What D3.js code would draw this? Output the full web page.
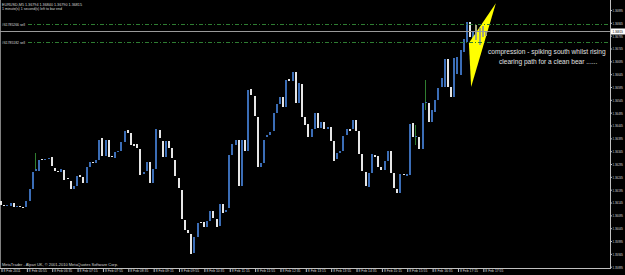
<!DOCTYPE html>
<html><head><meta charset="utf-8">
<script src="https://cdn.jsdelivr.net/npm/d3@7"></script>
<style>html,body{margin:0;padding:0;background:#000;overflow:hidden}svg{display:block}</style>
</head><body>
<svg id="c" width="625" height="275"></svg>
<script>
const titleLine = "EURUSD,M5  1.36794 1.36840 1.36790 1.36815";
const timerLine = "1 minute(s) 1 second(s) left to bar end";
const copyrightLine = "MetaTrader - Alpari UK, \u00a9 2001-2010 MetaQuotes Software Corp.";
const timeLabels = ["8 Feb 2011","8 Feb 05:55","8 Feb 06:35","8 Feb 07:15","8 Feb 07:55","8 Feb 08:35","8 Feb 09:15","8 Feb 09:55","8 Feb 10:35","8 Feb 11:15","8 Feb 11:55","8 Feb 12:35","8 Feb 13:15","8 Feb 13:55","8 Feb 14:35","8 Feb 15:15","8 Feb 15:55","8 Feb 16:35","8 Feb 17:15","8 Feb 17:55"];
const priceTicks = [1.35895,1.35945,1.35995,1.36045,1.36095,1.36145,1.36195,1.36245,1.36295,1.36345,1.36395,1.36445,1.36495,1.36545,1.36595,1.36645,1.36695,1.36745,1.36795,1.36845,1.36895];
const opens = [1.36151,1.36135,1.36133,1.36131,1.36143,1.36128,1.36130,1.36128,1.36128,1.36151,
1.36198,1.36268,1.36268,1.36315,1.36313,1.36316,1.36322,1.36280,1.36268,1.36264,
1.36272,1.36239,1.36229,1.36198,1.36209,1.36252,1.36244,1.36221,1.36283,1.36303,
1.36299,1.36311,1.36396,1.36326,1.36389,1.36326,1.36318,1.36344,1.36346,1.36381,
1.36428,1.36416,1.36373,1.36373,1.36354,1.36256,1.36268,1.36303,1.36221,1.36276,
1.36428,1.36385,1.36322,1.36385,1.36357,1.36311,1.36241,1.36194,1.36077,1.36038,
1.36022,1.35948,1.36011,1.36069,1.36069,1.36050,1.36073,1.36112,1.36081,1.36054,
1.36139,1.36108,1.36124,1.36330,1.36369,1.36389,1.36209,1.36389,1.36346,1.36587,
1.36560,1.36478,1.36283,1.36299,1.36400,1.36408,1.36424,1.36494,1.36529,1.36556,
1.36517,1.36626,1.36618,1.36653,1.36533,1.36607,1.36478,1.36451,1.36400,1.36431,
1.36494,1.36435,1.36459,1.36431,1.36439,1.36385,1.36315,1.36338,1.36346,1.36408,
1.36431,1.36431,1.36467,1.36424,1.36334,1.36264,1.36205,1.36260,1.36330,1.36326,
1.36283,1.36272,1.36307,1.36346,1.36260,1.36198,1.36182,1.36256,1.36248,1.36252,
1.36455,1.36400,1.36400,1.36354,1.36533,1.36533,1.36459,1.36498,1.36544,1.36595,
1.36595,1.36704,1.36595,1.36556,1.36646,1.36642,1.36731,1.36770,1.36848,1.36759,
1.36837,1.36759,1.36833,1.36794];
const closes = [1.36135,1.36133,1.36135,1.36143,1.36128,1.36130,1.36128,1.36126,1.36151,1.36198,
1.36264,1.36276,1.36311,1.36311,1.36315,1.36320,1.36287,1.36268,1.36266,1.36276,
1.36233,1.36235,1.36198,1.36209,1.36248,1.36244,1.36221,1.36283,1.36303,1.36299,
1.36311,1.36389,1.36326,1.36389,1.36322,1.36322,1.36342,1.36346,1.36381,1.36424,
1.36416,1.36369,1.36365,1.36357,1.36252,1.36264,1.36303,1.36221,1.36276,1.36431,
1.36396,1.36322,1.36385,1.36357,1.36318,1.36248,1.36202,1.36081,1.36038,1.36026,
1.35944,1.36011,1.36065,1.36065,1.36050,1.36073,1.36112,1.36085,1.36050,1.36139,
1.36104,1.36116,1.36330,1.36373,1.36389,1.36209,1.36389,1.36346,1.36583,1.36564,
1.36482,1.36283,1.36299,1.36389,1.36408,1.36420,1.36494,1.36529,1.36556,1.36517,
1.36622,1.36618,1.36653,1.36533,1.36611,1.36478,1.36447,1.36400,1.36431,1.36494,
1.36435,1.36459,1.36431,1.36439,1.36385,1.36307,1.36338,1.36346,1.36404,1.36431,
1.36424,1.36467,1.36424,1.36334,1.36268,1.36209,1.36260,1.36334,1.36322,1.36283,
1.36272,1.36307,1.36346,1.36260,1.36202,1.36182,1.36256,1.36252,1.36256,1.36451,
1.36400,1.36404,1.36354,1.36533,1.36537,1.36459,1.36505,1.36544,1.36591,1.36630,
1.36704,1.36595,1.36556,1.36708,1.36712,1.36739,1.36782,1.36848,1.36790,1.36809,
1.36778,1.36825,1.36790,1.36815];
// [bar index, high, low] for bars whose wick shows beyond the body
const wicks = [[11,1.36338,1.36268],[131,1.36447,1.36369],[134,1.36622,1.36505]];
const orderLabels = ["#61785266 sell","#61785182 sell"];
const orderPrices = [1.36840,1.36770];
const triIndex = [156.1,147.6,148.3];
const triPrice = [1.36921,1.36766,1.36595];
const noteLines = ["compression - spiking south whilst rising","clearing path for a clean bear ......"];

const W = 625, H = 275, plotRight = 610, plotBottom = 268;
const svg = d3.select("#c");
svg.append("rect").attr("width",W).attr("height",H).attr("fill","#000");

const x = d3.scaleLinear().domain([0,153]).range([1, 1+3.17*153]);
const y = d3.scaleLinear().domain([1.35895,1.36895]).range([266.7,10]);
const FONT = "Liberation Sans, Arial, sans-serif";
const TXT = "#d8d8d8";
const SQ = 0.72; // horizontal squeeze of the tiny price labels
const bars = opens.map((o,i)=>({i,o,c:closes[i]}));
const shadeFrom = 150;

function smallText(sel, len){
  sel.attr("fill",TXT).attr("font-size",4).attr("font-family",FONT);
  if (len) sel.attr("textLength",len).attr("lengthAdjust","spacingAndGlyphs");
  return sel;
}

// frame
svg.append("line").attr("x1",0.5).attr("x2",0.5).attr("y1",0).attr("y2",plotBottom).attr("stroke","#808080");
svg.append("line").attr("x1",plotRight+0.5).attr("x2",plotRight+0.5).attr("y1",0).attr("y2",plotBottom+1).attr("stroke","#c0c0c0");
svg.append("line").attr("x1",0).attr("x2",plotRight+1).attr("y1",plotBottom+0.5).attr("y2",plotBottom+0.5).attr("stroke","#c0c0c0");

// candles
function drawBars(sel, data, shaded){
  sel.selectAll("line.w").data(wicks.filter(w=>shaded ? w[0]>=shadeFrom : w[0]<shadeFrom)).join("line")
    .attr("class","w")
    .attr("x1",d=>Math.round(x(d[0]))-0.5).attr("x2",d=>Math.round(x(d[0]))-0.5)
    .attr("y1",d=>y(d[1])).attr("y2",d=>y(d[2]))
    .attr("stroke","#2f7d2f").attr("stroke-width",1);
  sel.selectAll("rect.b").data(data).join("rect")
    .attr("class","b")
    .attr("x",d=>Math.round(x(d.i))-1).attr("width",2)
    .attr("y",d=>Math.round(y(Math.max(d.o,d.c))))
    .attr("height",d=>Math.max(1,Math.round(Math.abs(y(d.o)-y(d.c)))))
    .attr("fill",d=> shaded ? "#a3a37a" : (d.c>=d.o ? "#3b6db6" : "#e6e6e6"));
}
drawBars(svg.append("g").attr("shape-rendering","crispEdges"), bars.filter(d=>d.i<shadeFrom), false);

// triangle annotation
svg.append("path")
  .attr("d", d3.line()(triIndex.map((t,k)=>[x(t), y(triPrice[k])])) + "Z")
  .attr("fill","#ffff00");

drawBars(svg.append("g").attr("shape-rendering","crispEdges"), bars.filter(d=>d.i>=shadeFrom), true);

// order lines
orderPrices.forEach((p,k)=>{
  const yy = Math.round(y(p))+0.5;
  svg.append("line").attr("x1",28).attr("x2",plotRight).attr("y1",yy).attr("y2",yy)
    .attr("stroke","#2e7d32").attr("stroke-dasharray","4,2,1,2");
  smallText(svg.append("text").attr("x",2).attr("y",yy+1.2).text(orderLabels[k]), 23);
});
// bid line
const bid = closes[closes.length-1];
const by = Math.round(y(bid))+0.5;
svg.append("line").attr("x1",0).attr("x2",plotRight).attr("y1",by).attr("y2",by).attr("stroke","#9a9a9a");

// price axis
const ay = svg.append("g").attr("transform",`translate(${plotRight},0)`)
  .call(d3.axisRight(y).tickValues(priceTicks).tickFormat(d3.format(".5f")).tickSize(2).tickPadding(1));
ay.select(".domain").remove();
ay.selectAll("line").attr("stroke","#c0c0c0");
ay.selectAll(".tick text")
  .attr("fill",TXT).attr("font-size",4).attr("font-family",FONT)
  .attr("x",2.6/SQ).attr("dy","0.35em").attr("transform",`scale(${SQ},1)`);
// current price box
const bg = svg.append("g").attr("transform",`translate(${plotRight+1},${by})`);
bg.append("rect").attr("x",0).attr("y",-3).attr("width",14).attr("height",6).attr("fill","#ffffff");
bg.append("text").attr("x",1.5/SQ).attr("y",1.5).attr("transform",`scale(${SQ},1)`).text(d3.format(".5f")(bid))
  .attr("fill","#000").attr("font-size",4).attr("font-family",FONT);

// time axis
const tickIdx = timeLabels.map((_,k)=>k*8);
const ax = svg.append("g").attr("transform",`translate(0,${plotBottom})`)
  .call(d3.axisBottom(x).tickValues(tickIdx).tickFormat((d,k)=>timeLabels[k]).tickSize(4).tickPadding(0));
ax.select(".domain").remove();
ax.selectAll("line").attr("stroke","#c0c0c0").attr("transform","translate(0.5,0)");
smallText(ax.selectAll("text"), (d,k)=> k===0 ? 17 : 18).attr("text-anchor","start").attr("dx",2).attr("dy","0.1em");

// texts
smallText(svg.append("text").attr("x",2).attr("y",5.6).text(titleLine), 80);
smallText(svg.append("text").attr("x",2).attr("y",9.6).text(timerLine), 60);
smallText(svg.append("text").attr("x",2).attr("y",265.5).text(copyrightLine), 116);
svg.append("text").attr("x",488).attr("y",54).text(noteLines[0]).attr("fill","#e0e0e0").attr("font-size",6.6).attr("font-family",FONT);
svg.append("text").attr("x",499).attr("y",64).text(noteLines[1]).attr("fill","#e0e0e0").attr("font-size",6.6).attr("font-family",FONT);
</script>
</body></html>
